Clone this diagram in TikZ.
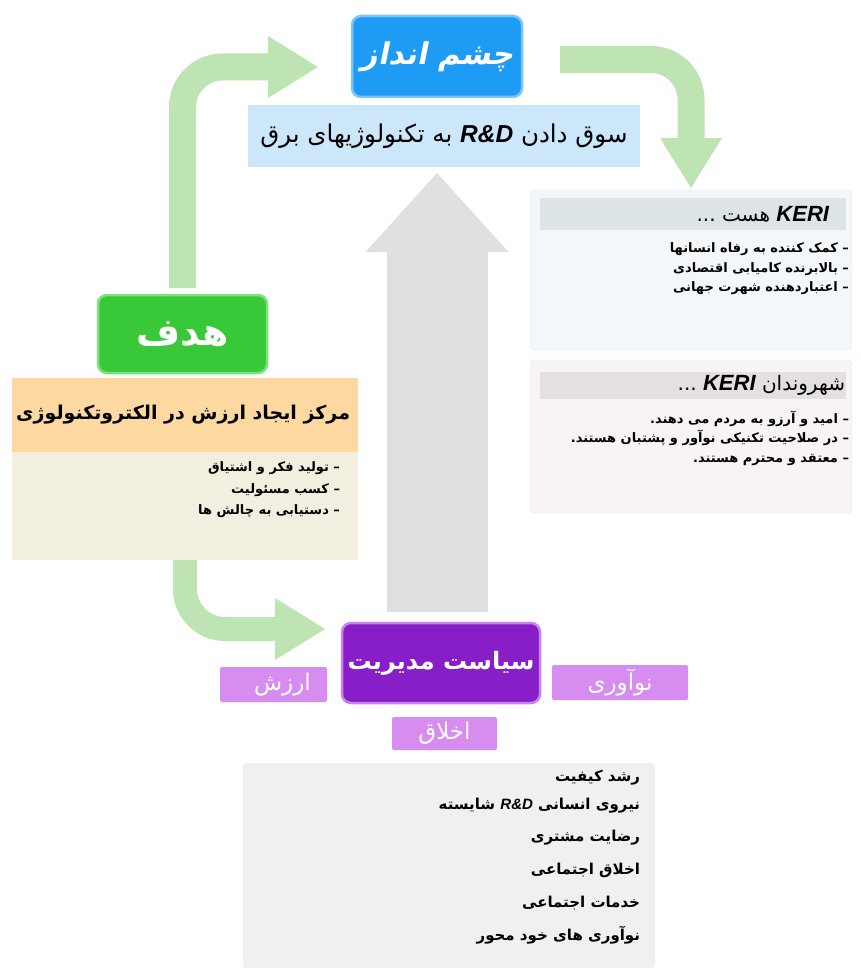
\documentclass[tikz,border=0pt]{standalone}
\usepackage{fontspec}
\newfontfamily\farsi[Script=Arabic]{DejaVu Sans}
\newfontfamily\farsititle[Script=Arabic,FakeSlant=0.2]{DejaVu Sans Bold}
\newfontfamily\latin{Liberation Sans}
\TeXXeTstate=1
\usetikzlibrary{arrows.meta}
\definecolor{visblue}{RGB}{30,155,245}
\definecolor{visedge}{RGB}{125,196,248}
\definecolor{vislight}{RGB}{204,230,250}
\definecolor{flowgreen}{RGB}{190,228,180}
\definecolor{goalgreen}{RGB}{56,200,56}
\definecolor{goaledge}{RGB}{125,225,125}
\definecolor{goalorange}{RGB}{253,216,160}
\definecolor{goalbeige}{RGB}{242,238,224}
\definecolor{arrowgray}{RGB}{224,224,224}
\definecolor{keribg}{RGB}{244,247,250}
\definecolor{keriedge}{RGB}{222,232,240}
\definecolor{kerihead}{RGB}{220,228,232}
\definecolor{citbg}{RGB}{249,244,244}
\definecolor{citedge}{RGB}{240,222,222}
\definecolor{cithead}{RGB}{228,224,226}
\definecolor{policypurple}{RGB}{135,30,200}
\definecolor{policyedge}{RGB}{200,130,235}
\definecolor{taglilac}{RGB}{215,140,240}
\definecolor{bottomgray}{RGB}{240,240,240}
\newcommand{\rd}{\beginL{\latin\bfseries\itshape R\&D}\endL{}}
\newcommand{\keri}{\beginL{\latin\bfseries\itshape\fontsize{22}{24}\selectfont KERI}\endL{}}

\begin{document}
\begin{tikzpicture}[x=1pt,y=-1pt,
    panel/.style={inner sep=0pt,outer sep=0pt},
    titlebox/.style={panel,rounded corners=9pt,line width=2.5pt,text=white},
    tagbox/.style={panel,rounded corners=2pt,fill=taglilac,text=white,
        font=\farsi\fontsize{23}{26}\selectfont},
    itemtext/.style={panel,align=right,anchor=north east,
        font=\farsi\bfseries\fontsize{13}{19.5}\selectfont},
    flow/.style={line width=27pt,draw=flowgreen,rounded corners=40pt,
        -{Triangle[width=62pt,length=50pt,line width=0pt]}},
    bigup/.style={line width=101pt,draw=arrowgray,
        -{Triangle[width=143pt,length=79pt,line width=0pt]}}]
\useasboundingbox (0,0) rectangle (861,971);

% vision
\node[titlebox,fill=visblue,draw=visedge,minimum width=170pt,minimum height=81pt]
    (vision) at (437,56.5) {\farsititle\fontsize{30}{36}\selectfont\beginR چشم انداز\endR};
\node[panel,fill=vislight,minimum width=392pt,minimum height=62pt] (visdesc) at (444,136)
    {\farsi\fontsize{24.5}{28}\selectfont\beginR سوق دادن \rd{} به تکنولوژیهای برق\endR};

% KERI boxes
\node[panel,rounded corners=4pt,fill=keribg,draw=keriedge,minimum width=322pt,minimum height=160pt]
    (keri) at (691,270) {};
\node[panel,fill=kerihead,minimum width=306pt,minimum height=32pt] (kerihead) at (693,214) {};
\node[panel,anchor=east] (keritext) at (829,214)
    {\farsi\fontsize{20}{24}\selectfont\beginR\keri{} هست ...\endR};
\node[itemtext] (keriitems) at (849,243)
    {\beginR – کمک کننده به رفاه انسانها\endR\\
     \beginR – بالابرنده کامیابی اقتصادی\endR\\
     \beginR – اعتباردهنده شهرت جهانی\endR};

\node[panel,rounded corners=4pt,fill=citbg,draw=citedge,minimum width=322pt,minimum height=153pt]
    (citizen) at (691,436.5) {};
\node[panel,fill=cithead,minimum width=306pt,minimum height=27pt] (cithead) at (693,385) {};
\node[panel,anchor=east] (cittext) at (845,385)
    {\farsi\fontsize{20}{24}\selectfont\beginR شهروندان \keri{} ...\endR};
\node[itemtext] (cititems) at (849,411)
    {\beginR – امید و آرزو به مردم می دهند.\endR\\
     \beginR – در صلاحیت تکنیکی نوآور و پشتبان هستند.\endR\\
     \beginR – معتقد و محترم هستند.\endR};

% goal
\node[titlebox,fill=goalgreen,draw=goaledge,minimum width=169pt,minimum height=78pt]
    (goal) at (182.5,334) {\farsi\bfseries\fontsize{38}{42}\selectfont\beginR هدف\endR};
\node[panel,fill=goalorange,minimum width=346pt,minimum height=74pt] (goalhead) at (185,415) {};
\node[panel,anchor=east] (goaltext) at (350,415)
    {\farsi\bfseries\fontsize{19}{23}\selectfont\beginR مرکز ایجاد ارزش در الکتروتکنولوژی\endR};
\node[panel,fill=goalbeige,minimum width=346pt,minimum height=108pt] (goalbody) at (185,506) {};
\node[itemtext,font=\farsi\bfseries\fontsize{13}{21.5}\selectfont] (goalitems) at (340,462)
    {\beginR – تولید فکر و اشتیاق\endR\\
     \beginR – کسب مسئولیت\endR\\
     \beginR – دستیابی به چالش ها\endR};

% policy
\node[titlebox,fill=policypurple,draw=policyedge,minimum width=198pt,minimum height=80pt]
    (policy) at (441,663) {\farsi\bfseries\fontsize{24}{30}\selectfont\beginR سیاست مدیریت\endR};
\node[tagbox,minimum width=107pt,minimum height=35pt] (value) at (273.5,684.5)
    {\hspace*{18pt}\beginR ارزش\endR};
\node[tagbox,minimum width=136pt,minimum height=35pt] (innov) at (620,682.5) {\beginR نوآوری\endR};
\node[tagbox,minimum width=105pt,minimum height=33pt] (ethics) at (444.5,733.5) {\beginR اخلاق\endR};

\node[panel,rounded corners=3pt,fill=bottomgray,minimum width=412pt,minimum height=205pt]
    (bottom) at (449,865.5) {};
\tikzset{rowtext/.style={panel,anchor=east,font=\farsi\bfseries\fontsize{15}{18}\selectfont}}
\node[rowtext] (quality) at (640,778) {\beginR رشد کیفیت\endR};
\node[rowtext] (staff) at (640,806) {\beginR نیروی انسانی \rd{} شایسته\endR};
\node[rowtext] (customer) at (640,838) {\beginR رضایت مشتری\endR};
\node[rowtext] (socethics) at (640,870) {\beginR اخلاق اجتماعی\endR};
\node[rowtext] (service) at (640,903) {\beginR خدمات اجتماعی\endR};
\node[rowtext] (selfinnov) at (640,935) {\beginR نوآوری های خود محور\endR};

% arrows
\draw[flow] ([yshift=7pt]goal.north) |- ([xshift=-34pt,yshift=-10.5pt]vision.west);
\draw[flow] ([xshift=38pt,yshift=-3pt]vision.east) -| ([yshift=2pt]keri.north);
\draw[flow,line width=24pt] (goalbody.south) |- ([xshift=-17pt,yshift=34pt]policy.west);
\draw[bigup] ([xshift=-4pt,yshift=11pt]policy.north) -- ([xshift=-4pt,yshift=-6pt]policy.north |- visdesc.south);
\end{tikzpicture}
\end{document}
